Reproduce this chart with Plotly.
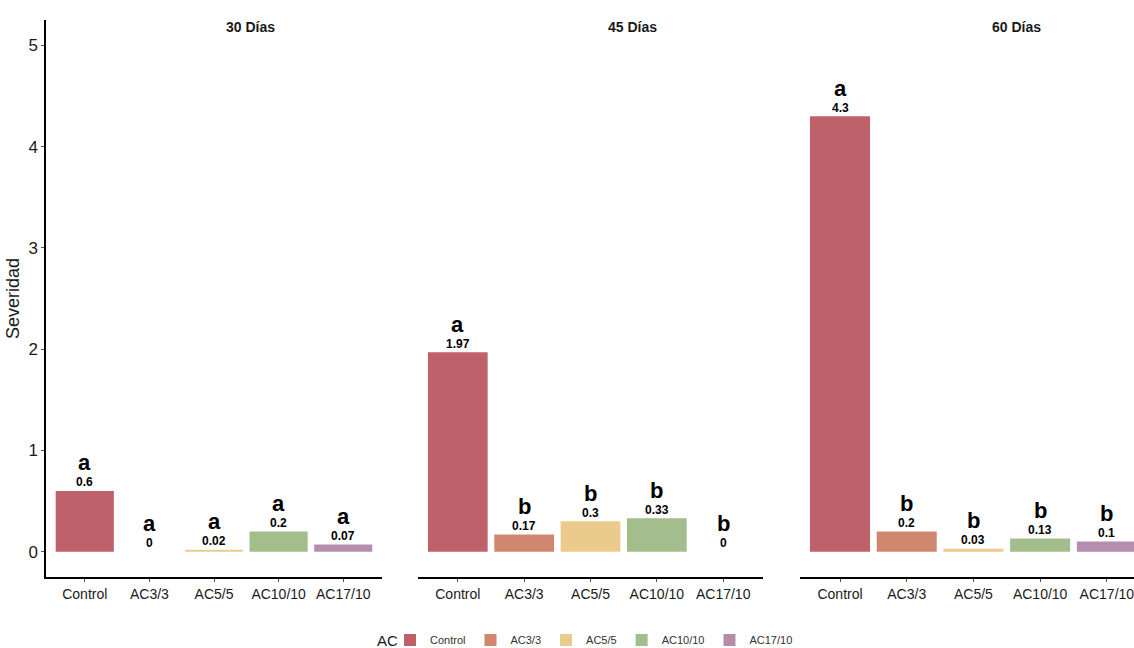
import plotly.graph_objects as go

categories = ["Control", "AC3/3", "AC5/5", "AC10/10", "AC17/10"]
facets = ["30 Días", "45 Días", "60 Días"]
values_30 = [0.6, 0, 0.02, 0.2, 0.07]
values_45 = [1.97, 0.17, 0.3, 0.33, 0]
values_60 = [4.3, 0.2, 0.03, 0.13, 0.1]
letters_30 = ["a", "a", "a", "a", "a"]
letters_45 = ["a", "b", "b", "b", "b"]
letters_60 = ["a", "b", "b", "b", "b"]
colors = ["#BF616A", "#D08770", "#EBCB8B", "#A3BE8C", "#B48EAD"]

all_values = [values_30, values_45, values_60]
all_letters = [letters_30, letters_45, letters_60]

W, H = 1134, 648
ml, mr, mt, mb = 46, 0, 20, 71
pw = W - ml - mr
ph = H - mt - mb
def px2dom(a, b):
    return [(a - ml) / pw, (b - ml) / pw]

domains = [px2dom(46, 382), px2dom(418, 763), px2dom(800, 1134)]
xranges = [[-0.6, 4.6], [-0.6, 4.6], [-0.6, 4.407]]
title_px = [250, 632, 1016]

fig = go.Figure()
font_fam = "Liberation Sans, Arial, sans-serif"

annotations = []
for fi, (vals, lets) in enumerate(zip(all_values, all_letters)):
    xa = "x" if fi == 0 else f"x{fi+1}"
    ya = "y" if fi == 0 else f"y{fi+1}"
    for ci, cat in enumerate(categories):
        fig.add_trace(go.Bar(
            x=[cat], y=[vals[ci]], name=cat, marker=dict(color=colors[ci], line=dict(width=0)),
            width=0.9, xaxis=xa, yaxis=ya, legendgroup=cat, showlegend=(fi == 0),
            hoverinfo="skip"))
        annotations.append(dict(x=cat, y=vals[ci], xref=xa, yref=ya, text=f"<b>{vals[ci]:g}</b>",
                                showarrow=False, yshift=8.5, font=dict(size=12, color="black", family=font_fam),
                                yanchor="middle"))
        annotations.append(dict(x=cat, y=vals[ci], xref=xa, yref=ya, text=f"<b>{lets[ci]}</b>",
                                showarrow=False, yshift=28, font=dict(size=22, color="black", family=font_fam),
                                yanchor="middle"))
    annotations.append(dict(x=(title_px[fi] - ml) / pw, y=(H - mb - 27) / ph, xref="paper", yref="paper",
                            text=f"<b>{facets[fi]}</b>", showarrow=False,
                            font=dict(size=14, color="#1a1a1a", family=font_fam), xanchor="center", yanchor="middle"))

# legend title
annotations.append(dict(x=(400 - ml) / pw, xref="paper", xanchor="right", y=(H - mb - 640) / ph, yref="paper",
                        yanchor="middle", text="AC", showarrow=False,
                        font=dict(size=15, color="#1a1a1a", family=font_fam)))

layout = dict(
    width=W, height=H, margin=dict(l=ml, r=mr, t=mt, b=mb, autoexpand=False),
    plot_bgcolor="white", paper_bgcolor="white", barmode="overlay",
    font=dict(family=font_fam, color="#1a1a1a"),
    annotations=annotations,
    legend=dict(orientation="h", x=(390 - ml) / pw, xanchor="left", yref="container", y=8 / H, yanchor="middle",
                font=dict(size=11, color="#333"), itemwidth=30, traceorder="normal"),
    showlegend=True,
)
for fi in range(3):
    sfx = "" if fi == 0 else str(fi + 1)
    layout["xaxis" + sfx] = dict(domain=domains[fi], anchor="y" + sfx, type="category",
                                 categoryorder="array", categoryarray=categories,
                                 range=xranges[fi], showline=True, linecolor="black", linewidth=1.5,
                                 ticks="outside", ticklen=3, tickcolor="#555", tickwidth=1,
                                 tickfont=dict(size=14, color="#1a1a1a"), showgrid=False, zeroline=False,
                                 fixedrange=True)
    layout["yaxis" + sfx] = dict(domain=[0, 1], anchor="x" + sfx, range=[-0.25, 5.25],
                                 showline=(fi == 0), linecolor="black", linewidth=1.5,
                                 ticks="outside" if fi == 0 else "", ticklen=3, tickcolor="#555",
                                 showticklabels=(fi == 0), tickvals=[0, 1, 2, 3, 4, 5],
                                 tickfont=dict(size=17, color="#1a1a1a"), showgrid=False, zeroline=False,
                                 title=dict(text="Severidad", font=dict(size=18), standoff=4) if fi == 0 else None)
fig.update_layout(**layout)
fig.write_html("out.html")
